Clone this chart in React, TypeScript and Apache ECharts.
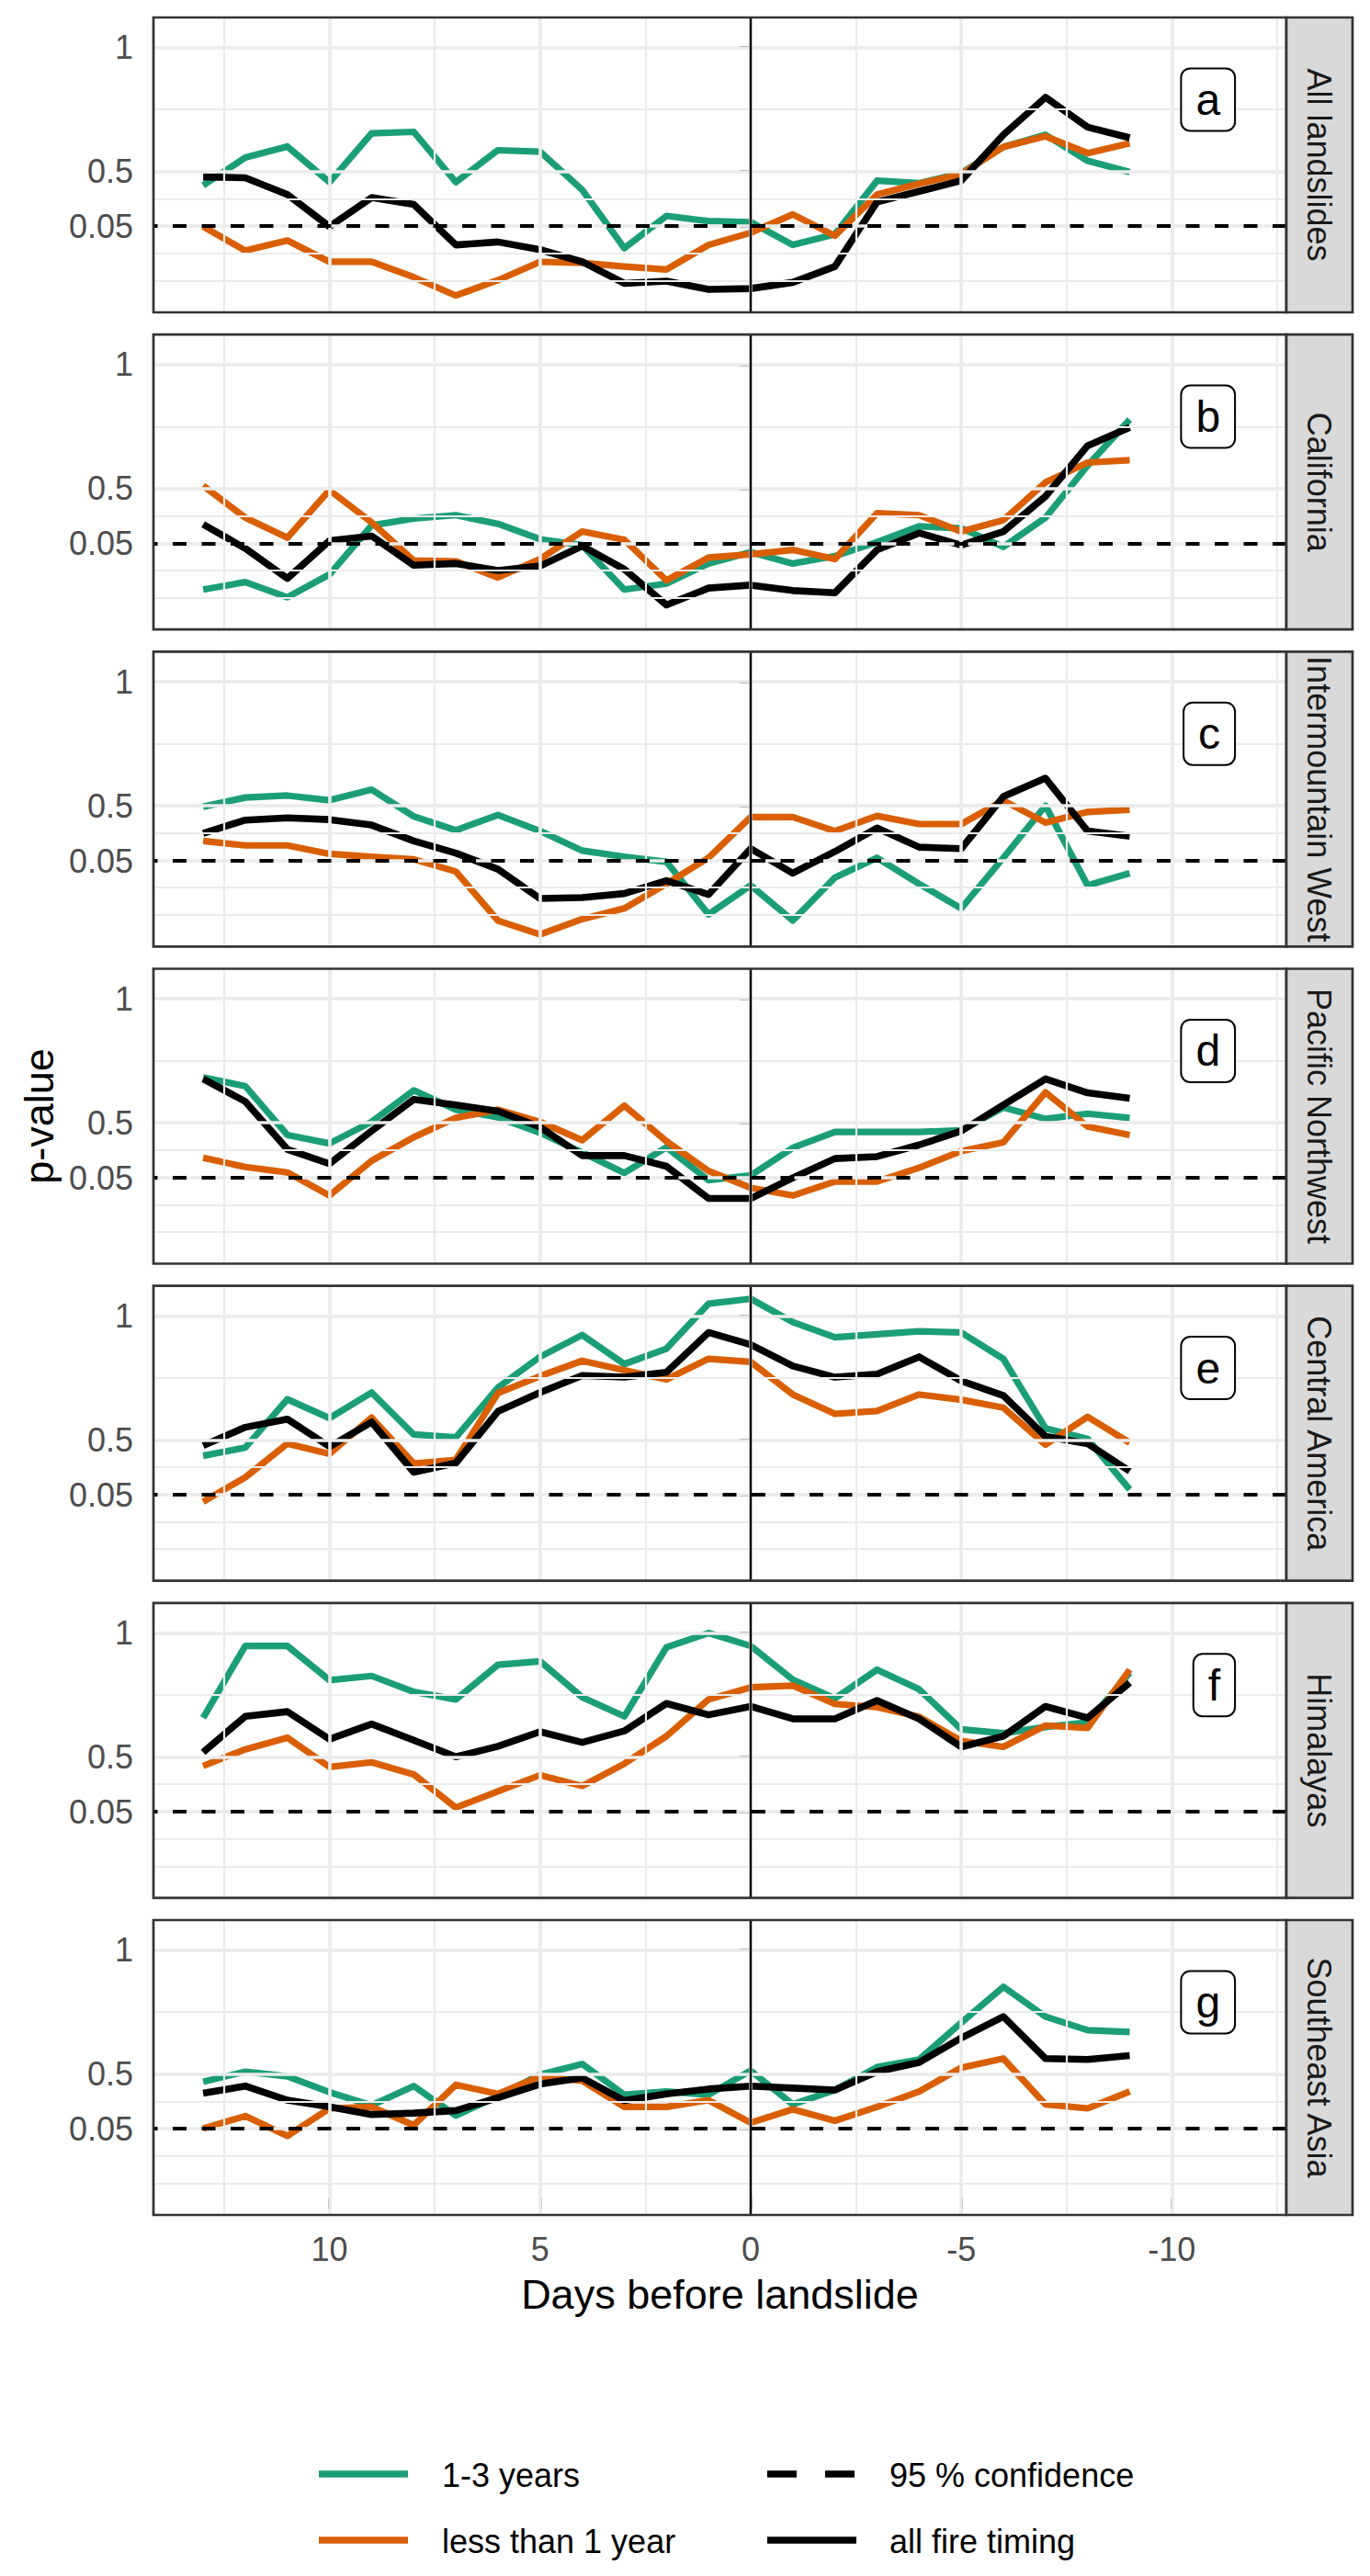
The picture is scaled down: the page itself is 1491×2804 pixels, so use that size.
import React, { useEffect, useRef } from "react";
import * as echarts from "echarts";

// ---------------- DATA ----------------
// days before landslide (x)
const days = [13, 12, 11, 10, 9, 8, 7, 6, 5, 4, 3, 2, 1, 0, -1, -2, -3, -4, -5, -6, -7, -8, -9];

const regions = [
  "All landslides",
  "California",
  "Intermountain West",
  "Pacific Northwest",
  "Central America",
  "Himalayas",
  "Southeast Asia",
];
const panelTags = ["a", "b", "c", "d", "e", "f", "g"];

// y axis: values are positions on the plotted (transformed) p-value scale
const yTickLabels = ["1", "0.5", "0.05"];
const yTickPos = [1, 0.5, 0.2778];
const yMinorPos = [0.75, 0.3889, 0.1667, 0.0556];
const confidencePos = 0.2778; // 95 % confidence (p = 0.05)

const xTickValues = [10, 5, 0, -5, -10];
const xMinorValues = [12.5, 7.5, 2.5, -2.5, -7.5, -12.5];

// a) All landslides
const allLandslides_1to3 = [0.444, 0.556, 0.601, 0.457, 0.654, 0.66, 0.457, 0.586, 0.58, 0.426, 0.191, 0.321, 0.3, 0.296, 0.204, 0.247, 0.463, 0.453, 0.494, 0.599, 0.648, 0.543, 0.498];
const allLandslides_lt1 = [0.278, 0.181, 0.222, 0.136, 0.136, 0.074, 0.0, 0.062, 0.136, 0.132, 0.117, 0.105, 0.204, 0.253, 0.327, 0.241, 0.407, 0.451, 0.49, 0.599, 0.642, 0.574, 0.614];
const allLandslides_all = [0.478, 0.475, 0.407, 0.278, 0.395, 0.367, 0.204, 0.216, 0.185, 0.136, 0.049, 0.058, 0.025, 0.028, 0.053, 0.117, 0.377, 0.42, 0.463, 0.648, 0.799, 0.679, 0.636];
// b) California
const california_1to3 = [0.093, 0.123, 0.062, 0.154, 0.352, 0.379, 0.393, 0.358, 0.296, 0.272, 0.093, 0.117, 0.198, 0.244, 0.198, 0.228, 0.284, 0.348, 0.34, 0.265, 0.383, 0.593, 0.778];
const california_lt1 = [0.512, 0.383, 0.302, 0.494, 0.364, 0.21, 0.207, 0.142, 0.216, 0.327, 0.294, 0.13, 0.222, 0.235, 0.253, 0.216, 0.401, 0.393, 0.327, 0.373, 0.525, 0.605, 0.615];
const california_all = [0.356, 0.259, 0.138, 0.29, 0.309, 0.191, 0.198, 0.17, 0.188, 0.269, 0.175, 0.031, 0.099, 0.111, 0.089, 0.08, 0.253, 0.321, 0.272, 0.327, 0.469, 0.673, 0.747];
// c) Intermountain West
const intermountain_1to3 = [0.496, 0.533, 0.541, 0.522, 0.565, 0.457, 0.401, 0.463, 0.398, 0.319, 0.294, 0.274, 0.062, 0.179, 0.037, 0.21, 0.29, 0.185, 0.086, 0.29, 0.5, 0.179, 0.228];
const intermountain_lt1 = [0.358, 0.34, 0.34, 0.306, 0.294, 0.284, 0.235, 0.037, -0.019, 0.043, 0.086, 0.185, 0.29, 0.454, 0.454, 0.398, 0.459, 0.426, 0.426, 0.521, 0.432, 0.475, 0.484];
const intermountain_all = [0.389, 0.442, 0.451, 0.444, 0.422, 0.358, 0.309, 0.244, 0.126, 0.13, 0.146, 0.198, 0.142, 0.327, 0.228, 0.315, 0.41, 0.333, 0.327, 0.537, 0.611, 0.398, 0.377];
// d) Pacific Northwest
const pacificNW_1to3 = [0.683, 0.648, 0.451, 0.417, 0.504, 0.631, 0.553, 0.522, 0.46, 0.38, 0.298, 0.401, 0.269, 0.288, 0.399, 0.463, 0.463, 0.463, 0.47, 0.562, 0.516, 0.537, 0.52];
const pacificNW_lt1 = [0.359, 0.322, 0.3, 0.207, 0.347, 0.442, 0.52, 0.553, 0.504, 0.43, 0.569, 0.426, 0.306, 0.238, 0.207, 0.263, 0.263, 0.319, 0.386, 0.421, 0.623, 0.485, 0.451];
const pacificNW_all = [0.677, 0.586, 0.393, 0.335, 0.467, 0.594, 0.572, 0.547, 0.483, 0.368, 0.368, 0.325, 0.195, 0.195, 0.278, 0.356, 0.364, 0.411, 0.467, 0.572, 0.677, 0.621, 0.599];
// e) Central America
const centralAm_1to3 = [0.436, 0.469, 0.664, 0.588, 0.691, 0.522, 0.51, 0.711, 0.835, 0.923, 0.806, 0.868, 1.049, 1.069, 0.975, 0.914, 0.926, 0.938, 0.933, 0.827, 0.547, 0.504, 0.3];
const centralAm_lt1 = [0.251, 0.349, 0.485, 0.444, 0.59, 0.405, 0.42, 0.689, 0.757, 0.819, 0.781, 0.744, 0.827, 0.815, 0.683, 0.605, 0.617, 0.683, 0.662, 0.63, 0.481, 0.593, 0.489];
const centralAm_all = [0.477, 0.551, 0.584, 0.473, 0.572, 0.37, 0.407, 0.615, 0.691, 0.76, 0.753, 0.773, 0.933, 0.884, 0.798, 0.753, 0.765, 0.835, 0.738, 0.679, 0.514, 0.485, 0.374];
// f) Himalayas
const himalayas_1to3 = [0.658, 0.948, 0.948, 0.81, 0.827, 0.763, 0.732, 0.872, 0.886, 0.741, 0.664, 0.942, 1.0, 0.948, 0.812, 0.736, 0.852, 0.773, 0.612, 0.596, 0.621, 0.64, 0.84];
const himalayas_lt1 = [0.464, 0.531, 0.578, 0.46, 0.479, 0.43, 0.296, 0.362, 0.427, 0.383, 0.473, 0.584, 0.732, 0.781, 0.788, 0.714, 0.701, 0.662, 0.565, 0.541, 0.627, 0.617, 0.852];
const himalayas_all = [0.519, 0.664, 0.683, 0.572, 0.633, 0.568, 0.501, 0.543, 0.602, 0.559, 0.605, 0.716, 0.67, 0.704, 0.654, 0.654, 0.728, 0.654, 0.541, 0.584, 0.704, 0.658, 0.8];
// g) Southeast Asia
const seAsia_1to3 = [0.469, 0.51, 0.491, 0.427, 0.374, 0.452, 0.333, 0.411, 0.498, 0.541, 0.417, 0.43, 0.417, 0.514, 0.378, 0.436, 0.528, 0.559, 0.707, 0.852, 0.732, 0.677, 0.67];
const seAsia_lt1 = [0.281, 0.331, 0.251, 0.362, 0.368, 0.294, 0.457, 0.42, 0.491, 0.473, 0.368, 0.368, 0.395, 0.304, 0.358, 0.312, 0.368, 0.43, 0.526, 0.563, 0.378, 0.362, 0.43];
const seAsia_all = [0.423, 0.452, 0.395, 0.368, 0.337, 0.343, 0.353, 0.405, 0.46, 0.485, 0.393, 0.42, 0.44, 0.452, 0.444, 0.436, 0.51, 0.547, 0.646, 0.732, 0.563, 0.559, 0.575];

const seriesNames = ["1-3 years", "less than 1 year", "all fire timing"];
const panelData = [
  [allLandslides_1to3, allLandslides_lt1, allLandslides_all],
  [california_1to3, california_lt1, california_all],
  [intermountain_1to3, intermountain_lt1, intermountain_all],
  [pacificNW_1to3, pacificNW_lt1, pacificNW_all],
  [centralAm_1to3, centralAm_lt1, centralAm_all],
  [himalayas_1to3, himalayas_lt1, himalayas_all],
  [seAsia_1to3, seAsia_lt1, seAsia_all],
];

// ---------------- STYLE / LAYOUT ----------------
const W = 1491;
const H = 2804;
const FONT = "'Liberation Sans', Arial, Helvetica, sans-serif";
const COLORS = ["#1b9e77", "#d95f02", "#000000"];
const LINE_W = [7.2, 7.2, 7.6];
const PANEL_LEFT = 167;
const PANEL_RIGHT = 1400;
const STRIP_W = 72;
const PANEL_TOP0 = 19;
const PANEL_STEP = 345.17;
const PANEL_H = 321;
const X_MIN = -12.72;
const X_MAX = 14.18;
const Y_MIN = -0.0678;
const Y_MAX = 1.1211;
const TAG_X = -11.5;
const TAG_Y = 0.79;
const GRID_COLOR = "#ebebeb";
const BORDER = "#333333";

function panelTop(i: number) {
  return PANEL_TOP0 + i * PANEL_STEP;
}

function buildOption(): any {
  const n = regions.length;
  const grids: any[] = [];
  const xAxes: any[] = [];
  const yAxes: any[] = [];
  const series: any[] = [];
  const graphics: any[] = [];

  for (let i = 0; i < n; i++) {
    const top = panelTop(i);
    const last = i === n - 1;
    grids.push({ left: PANEL_LEFT, top, width: PANEL_RIGHT - PANEL_LEFT, height: PANEL_H, show: false });
    xAxes.push({
      type: "value",
      gridIndex: i,
      min: X_MIN,
      max: X_MAX,
      inverse: true,
      axisLine: { show: false },
      splitLine: { show: false },
      minorSplitLine: { show: false },
      axisTick: {
        show: last,
        customValues: xTickValues,
        length: 12,
        lineStyle: { color: BORDER, width: 3 },
      },
      axisLabel: {
        show: last,
        customValues: xTickValues,
        margin: 19,
        fontSize: 36,
        color: "#4d4d4d",
        fontFamily: FONT,
        formatter: (v: number) => String(v),
      },
    });
    yAxes.push({
      type: "value",
      gridIndex: i,
      min: Y_MIN,
      max: Y_MAX,
      axisLine: { show: false },
      splitLine: { show: false },
      minorSplitLine: { show: false },
      axisTick: {
        show: true,
        customValues: yTickPos,
        length: 12,
        lineStyle: { color: BORDER, width: 3 },
      },
      axisLabel: {
        show: true,
        customValues: yTickPos,
        margin: 22,
        fontSize: 36,
        color: "#4d4d4d",
        fontFamily: FONT,
        formatter: (v: number) => {
          const k = yTickPos.findIndex((p) => Math.abs(p - v) < 1e-6);
          return k >= 0 ? yTickLabels[k] : "";
        },
      },
    });

    // background grid lines
    const gridLines: any[] = [];
    yMinorPos.forEach((v) => gridLines.push({ yAxis: v, lineStyle: { color: GRID_COLOR, width: 2.2, type: "solid" } }));
    yTickPos.forEach((v) => gridLines.push({ yAxis: v, lineStyle: { color: GRID_COLOR, width: 3.6, type: "solid" } }));
    xMinorValues.forEach((v) => gridLines.push({ xAxis: v, lineStyle: { color: GRID_COLOR, width: 2.2, type: "solid" } }));
    xTickValues.forEach((v) => gridLines.push({ xAxis: v, lineStyle: { color: GRID_COLOR, width: 3.6, type: "solid" } }));
    series.push({
      type: "line",
      xAxisIndex: i,
      yAxisIndex: i,
      data: [],
      silent: true,
      z: 1,
      markLine: {
        silent: true,
        symbol: ["none", "none"],
        label: { show: false },
        emphasis: { disabled: true },
        data: gridLines,
      },
    });

    // data lines
    panelData[i].forEach((arr, s) => {
      series.push({
        type: "line",
        name: seriesNames[s],
        xAxisIndex: i,
        yAxisIndex: i,
        data: days.map((d, k) => [d, arr[k]]),
        showSymbol: false,
        symbol: "none",
        silent: true,
        z: 2 + s * 0.1,
        lineStyle: { color: COLORS[s], width: LINE_W[s], join: "round", cap: "butt" },
      });
    });

    // reference lines: 95 % confidence and day 0
    series.push({
      type: "line",
      xAxisIndex: i,
      yAxisIndex: i,
      data: [],
      silent: true,
      z: 3,
      markLine: {
        silent: true,
        symbol: ["none", "none"],
        label: { show: false },
        emphasis: { disabled: true },
        data: [
          { yAxis: confidencePos, lineStyle: { color: "#000", width: 4, type: [15, 16.5] } },
          { xAxis: 0, lineStyle: { color: "#000", width: 2.4, type: "solid" } },
        ],
      },
    });

    // panel tag label
    series.push({
      type: "scatter",
      xAxisIndex: i,
      yAxisIndex: i,
      data: [[TAG_X, TAG_Y]],
      symbol: "circle",
      symbolSize: 2,
      itemStyle: { color: "rgba(0,0,0,0)" },
      silent: true,
      z: 5,
      label: {
        show: true,
        position: "left",
        distance: 0,
        formatter: () => panelTags[i],
        fontSize: 48,
        lineHeight: 44,
        fontFamily: FONT,
        color: "#000",
        opacity: 1,
        backgroundColor: "#ffffff",
        borderColor: "#000",
        borderWidth: 2,
        borderRadius: 9,
        padding: [11, 15],
      },
      labelLayout: { hideOverlap: false },
    });

    // panel border
    graphics.push({
      type: "rect",
      z: 50,
      silent: true,
      shape: { x: PANEL_LEFT, y: top, width: PANEL_RIGHT - PANEL_LEFT, height: PANEL_H },
      style: { fill: "none", stroke: BORDER, lineWidth: 2.7 },
    });
    // strip
    graphics.push({
      type: "rect",
      z: 50,
      silent: true,
      shape: { x: PANEL_RIGHT, y: top, width: STRIP_W, height: PANEL_H },
      style: { fill: "#d9d9d9", stroke: BORDER, lineWidth: 2.7 },
    });
    graphics.push({
      type: "text",
      z: 51,
      silent: true,
      x: PANEL_RIGHT + STRIP_W / 2 - 1,
      y: top + PANEL_H / 2,
      rotation: -Math.PI / 2,
      style: {
        text: regions[i],
        fontSize: 36,
        fontFamily: FONT,
        fill: "#1a1a1a",
        align: "center",
        verticalAlign: "middle",
      },
    });
  }

  // axis titles
  const panelsBottom = panelTop(n - 1) + PANEL_H;
  graphics.push({
    type: "text",
    z: 51,
    silent: true,
    x: (PANEL_LEFT + PANEL_RIGHT) / 2,
    y: 2497,
    style: { text: "Days before landslide", fontSize: 45, fontFamily: FONT, fill: "#000", align: "center", verticalAlign: "middle" },
  });
  graphics.push({
    type: "text",
    z: 51,
    silent: true,
    x: 42,
    y: (PANEL_TOP0 + panelsBottom) / 2,
    rotation: Math.PI / 2,
    style: { text: "p-value", fontSize: 45, fontFamily: FONT, fill: "#000", align: "center", verticalAlign: "middle" },
  });

  // legend
  const legendItems = [
    { label: "1-3 years", color: COLORS[0], dash: null as any, col: 0, row: 0 },
    { label: "less than 1 year", color: COLORS[1], dash: null as any, col: 0, row: 1 },
    { label: "95 % confidence", color: "#000", dash: [32, 31], col: 1, row: 0 },
    { label: "all fire timing", color: "#000", dash: null as any, col: 1, row: 1 },
  ];
  const colKeyX = [347, 835];
  const colTextX = [481, 968];
  const rowY = [2693, 2765];
  legendItems.forEach((it) => {
    const y = rowY[it.row];
    graphics.push({
      type: "line",
      z: 51,
      silent: true,
      shape: { x1: colKeyX[it.col], y1: y, x2: colKeyX[it.col] + 97, y2: y },
      style: { stroke: it.color, lineWidth: 7.5, lineDash: it.dash || undefined },
    });
    graphics.push({
      type: "text",
      z: 51,
      silent: true,
      x: colTextX[it.col],
      y: y + 1,
      style: { text: it.label, fontSize: 36, fontFamily: FONT, fill: "#000", align: "left", verticalAlign: "middle" },
    });
  });

  return {
    animation: false,
    backgroundColor: "#ffffff",
    textStyle: { fontFamily: FONT },
    grid: grids,
    xAxis: xAxes,
    yAxis: yAxes,
    series,
    graphic: { elements: graphics },
  };
}

export default function App() {
  const ref = useRef<HTMLDivElement>(null);
  useEffect(() => {
    document.body.style.margin = "0";
    if (!ref.current) return;
    const chart = echarts.init(ref.current, undefined, { renderer: "svg", width: W, height: H });
    chart.setOption(buildOption());
    return () => {
      chart.dispose();
    };
  }, []);
  return <div ref={ref} style={{ width: W, height: H }} />;
}
